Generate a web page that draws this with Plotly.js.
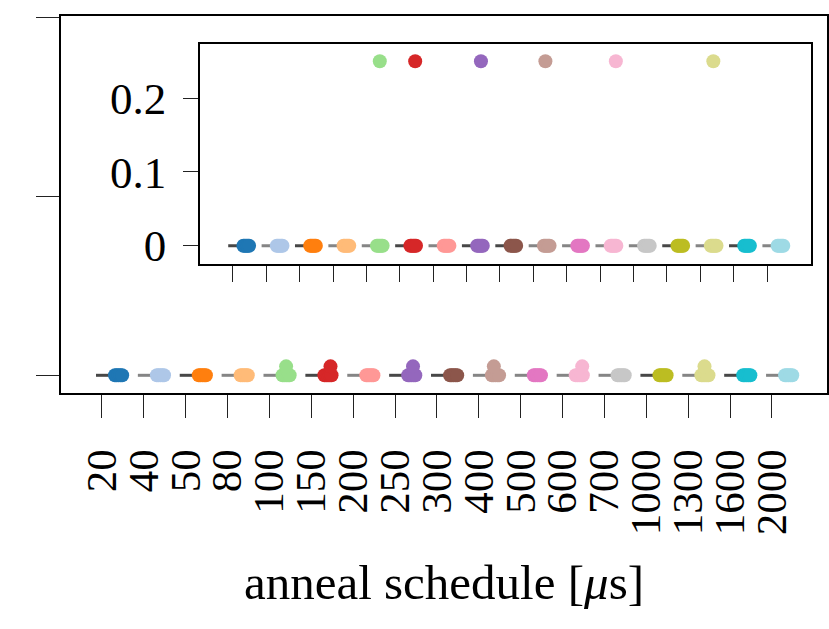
<!DOCTYPE html>
<html>
<head>
<meta charset="utf-8">
<script src="https://cdn.plot.ly/plotly-3.0.1.min.js"></script>
<style>html,body{margin:0;padding:0;background:#fff;}#chart{width:829px;height:629px;}</style>
</head>
<body>
<div id="chart"></div>
<script>
// Categories (anneal schedule, microseconds)
const categories = ['20','40','50','80','100','150','200','250','300','400','500','600','700','1000','1300','1600','2000'];
// Value of the bulk of the points for each schedule
const clusterValues = [0,0,0,0,0,0,0,0,0,0,0,0,0,0,0,0,0];
// Single outlying points (null = none)
const outlierValues = [null,null,null,null,0.25,0.25,null,0.25,null,0.25,null,0.25,null,null,0.25,null,null];
// Box (collapsed) value per schedule
const boxValues = [0,0,0,0,0,0,0,0,0,0,0,0,0,0,0,0,0];
// Tick labels of the inset y axis
const insetYTicks = [0, 0.1, 0.2];
const insetYTickText = ['0', '0.1', '0.2'];
const mainYTicks = [0, 5, 10];

// Styles
const colors = ['#1f77b4','#aec7e8','#ff7f0e','#ffbb78','#98df8a','#d62728','#ff9896','#9467bd','#8c564b','#c49c94','#e377c2','#f7b6d2','#c7c7c7','#bcbd22','#dbdb8d','#17becf','#9edae5'];
const D = '#474747', L = '#858585';
const lineGrays = [D,L,D,L,L,D,L,D,D,L,L,L,L,D,L,D,L];
const jitterOffsets = [-0.085,-0.045,0,0.045,0.085];
const outlierOffsets = [0,0,0,0,0.40,0.46,0,0.43,0,0.36,0,0.47,0,0,0.39,0,0];
const clusterShift = 0.4;

const traces = [];
function addSet(xa, ya) {
  categories.forEach((c, i) => {
    traces.push({type:'scatter', mode:'lines', x:[i-0.14, i+clusterShift], y:[boxValues[i], boxValues[i]],
      xaxis:xa, yaxis:ya, line:{color:lineGrays[i], width:3}, hoverinfo:'skip', showlegend:false});
  });
  categories.forEach((c, i) => {
    const xs = jitterOffsets.map(o => i + clusterShift + o);
    const ys = jitterOffsets.map(() => clusterValues[i]);
    if (outlierValues[i] !== null) { xs.push(i + outlierOffsets[i]); ys.push(outlierValues[i]); }
    traces.push({type:'scatter', mode:'markers', x:xs, y:ys, xaxis:xa, yaxis:ya,
      marker:{color:colors[i], size:14, line:{width:0}}, showlegend:false, cliponaxis:false, name:c});
  });
}
addSet('x','y');
addSet('x2','y2');

const FONT = 'Liberation Serif, Times New Roman, serif';
const idx = categories.map((c,i)=>i);
const xr = [-0.975, 17.315];

const layout = {
  width:829, height:629,
  margin:{l:61, r:2, t:16, b:236, pad:0},
  paper_bgcolor:'#fff', plot_bgcolor:'#fff',
  showlegend:false,
  font:{family:FONT, color:'#000', size:44},
  xaxis:{domain:[0,1], range:xr, tickmode:'array', tickvals:idx, ticktext:categories, tickangle:-90,
    ticks:'outside', ticklen:23, tickwidth:1, tickcolor:'#222', showline:true, mirror:true, linewidth:2, linecolor:'#000',
    showgrid:false, zeroline:false, tickfont:{family:FONT, size:43, color:'#000'}, ticklabelstandoff:14,
    title:{text:'anneal schedule [<i>μ</i>s]', font:{family:FONT, size:49, color:'#000'}, standoff:30}},
  yaxis:{domain:[0,1], range:[-0.495, 10.047], tickmode:'array', tickvals:mainYTicks, showticklabels:false,
    ticks:'outside', ticklen:23, tickwidth:1, tickcolor:'#222', showline:true, mirror:true, linewidth:2, linecolor:'#000',
    showgrid:false, zeroline:false},
  xaxis2:{domain:[0.1819, 0.9791], anchor:'y2', range:xr, tickmode:'array', tickvals:idx, showticklabels:false,
    ticks:'outside', ticklen:16, tickwidth:1, tickcolor:'#222', showline:true, mirror:true, linewidth:2, linecolor:'#000',
    showgrid:false, zeroline:false},
  yaxis2:{domain:[0.343, 0.9257], anchor:'x2', range:[-0.0244, 0.2733], tickmode:'array', tickvals:insetYTicks, ticktext:insetYTickText,
    ticks:'outside', ticklen:15, tickwidth:1, tickcolor:'#222', showline:true, mirror:true, linewidth:2, linecolor:'#000',
    showgrid:false, zeroline:false, tickfont:{family:FONT, size:45, color:'#000'}, ticklabelstandoff:8}
};

Plotly.newPlot('chart', traces, layout, {staticPlot:true, displayModeBar:false});
</script>
</body>
</html>
